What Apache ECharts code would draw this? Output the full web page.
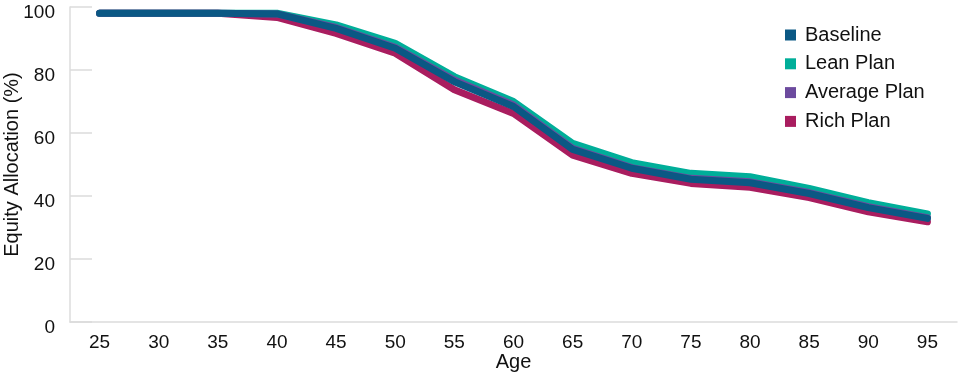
<!DOCTYPE html>
<html>
<head>
<meta charset="utf-8">
<script src="https://cdn.jsdelivr.net/npm/echarts@6/dist/echarts.min.js"></script>
<style>html,body{margin:0;padding:0;background:#fff}#c{width:960px;height:375px}</style>
</head>
<body>
<div id="c"></div>
<script>
const ages = ['25','30','35','40','45','50','55','60','65','70','75','80','85','90','95'];
const baseline = [98,98,98,97.8,93.2,86.9,76.3,68.4,54.8,48.8,45.3,44.2,40.8,36.3,32.9];
const lean     = [98,98,98,98,94.3,88.5,77.9,70,56.7,50.6,47.2,46.1,42.4,37.9,34.3];
const average  = [98,98,98,97.8,93.5,87.2,76.8,68.9,55.1,49,45.6,44.5,41.1,36.6,33.1];
const rich     = [98,98,98,96.7,91.6,85.3,73.7,66.2,53,47.2,44,42.8,39.5,35,31.8];
const yTicks = [0,20,40,60,80,100];

const font = 'Liberation Sans, Arial, Helvetica, sans-serif';
const colors = {Baseline:'#0b5884','Lean Plan':'#00ae99','Average Plan':'#6c4a9e','Rich Plan':'#a91d5f'};

function line(name, data, z) {
  return {
    name: name, type: 'line', data: data, z: z,
    symbol: 'none', smooth: false,
    lineStyle: {width: 7, color: colors[name], cap: 'round', join: 'round'},
    itemStyle: {color: colors[name]},
    emphasis: {disabled: true}
  };
}

const chart = echarts.init(document.getElementById('c'), null, {renderer: 'canvas'});
chart.setOption({
  animation: false,
  grid: {left: 70, right: 3, top: 7, bottom: 53, containLabel: false, outerBoundsMode: 'none'},
  legend: {
    orient: 'vertical', left: 785, top: 25, padding: 0,
    itemWidth: 11, itemHeight: 11, itemGap: 8.8, icon: 'rect',
    data: ['Baseline','Lean Plan','Average Plan','Rich Plan'],
    textStyle: {fontFamily: font, fontSize: 20, color: '#111', lineHeight: 20, padding: [0,0,0,4]}
  },
  xAxis: {
    type: 'category', data: ages, boundaryGap: true,
    name: 'Age', nameLocation: 'middle', nameGap: 30, nameMoveOverlap: false,
    nameTextStyle: {fontFamily: font, fontSize: 20, color: '#111'},
    axisLine: {lineStyle: {color: '#dcdcdc', width: 1.5}},
    axisTick: {inside: true, length: 8, lineStyle: {color: '#dcdcdc', width: 1.5}},
    axisLabel: {fontFamily: font, fontSize: 19, color: '#111', margin: 11},
    splitLine: {show: false}
  },
  yAxis: {
    type: 'value', min: 0, max: 100, interval: 20,
    name: 'Equity Allocation (%)', nameLocation: 'middle', nameGap: 48, nameMoveOverlap: false,
    nameTextStyle: {fontFamily: font, fontSize: 20, color: '#111'},
    axisLine: {show: true, lineStyle: {color: '#dcdcdc', width: 1.5}},
    axisTick: {show: true, inside: true, length: 22, lineStyle: {color: '#dcdcdc', width: 1.5}},
    axisLabel: {fontFamily: font, fontSize: 19, color: '#111', margin: 15,
      formatter: function (v) { return yTicks.indexOf(v) >= 0 ? '{a|' + v + '}' : ''; },
      rich: {a: {fontFamily: font, fontSize: 19, color: '#111', padding: [11,0,0,0]}}},
    splitLine: {show: false}
  },
  series: [
    line('Rich Plan', rich, 2),
    line('Lean Plan', lean, 3),
    line('Average Plan', average, 4),
    line('Baseline', baseline, 5)
  ]
});
</script>
</body>
</html>
